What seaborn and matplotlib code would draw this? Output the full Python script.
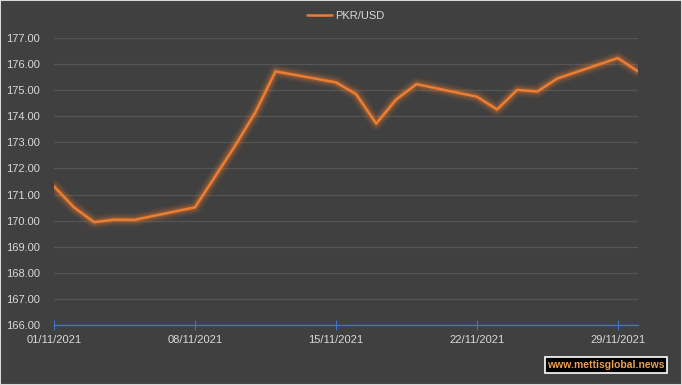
import pandas as pd
import numpy as np
import matplotlib
matplotlib.use("Agg")
import matplotlib.pyplot as plt
import matplotlib.dates as mdates
import seaborn as sns

# PKR/USD daily rate, November 2021 (business days)
dates = ["2021-11-01", "2021-11-02", "2021-11-03", "2021-11-04", "2021-11-05",
         "2021-11-08", "2021-11-09", "2021-11-10", "2021-11-11", "2021-11-12",
         "2021-11-15", "2021-11-16", "2021-11-17", "2021-11-18", "2021-11-19",
         "2021-11-22", "2021-11-23", "2021-11-24", "2021-11-25", "2021-11-26",
         "2021-11-29", "2021-11-30"]
rates = [171.31, 170.50, 169.94, 170.04, 170.03,
         170.51, 171.69, 172.88, 174.15, 175.72,
         175.30, 174.85, 173.72, 174.65, 175.23,
         174.75, 174.26, 175.01, 174.95, 175.45,
         176.23, 175.72]
tick_dates = ["2021-11-01", "2021-11-08", "2021-11-15", "2021-11-22", "2021-11-29"]
y_ticks = list(range(166, 178))

df = pd.DataFrame({"date": pd.to_datetime(dates), "rate": rates})

bg = "#404040"
orange = "#ED7D31"
txt = "#D9D9D9"

sns.set_theme(style="dark")
plt.rcParams["font.family"] = ["Liberation Sans", "DejaVu Sans"]

fig = plt.figure(figsize=(6.82, 3.85), dpi=100, facecolor=bg)
ax = fig.add_axes([54 / 682, 1 - 325 / 385, (638 - 54) / 682, (325 - 38) / 385])
ax.set_facecolor(bg)

# glow under the line
for lw, a in [(10, 0.06), (8, 0.08), (6, 0.12), (4, 0.2)]:
    ax.plot(df["date"], df["rate"], color=orange, lw=lw, alpha=a,
            solid_joinstyle="round", solid_capstyle="round", zorder=2)
sns.lineplot(data=df, x="date", y="rate", ax=ax, color=orange, lw=1.8,
             label="PKR/USD", zorder=3)

ax.set_ylim(166, 177)
ax.set_xlim(df["date"].min(), df["date"].max())
ax.set_yticks(y_ticks)
ax.set_yticklabels([f"{v:.2f}" for v in y_ticks])
ax.set_xticks(pd.to_datetime(tick_dates))
ax.xaxis.set_major_formatter(mdates.DateFormatter("%d/%m/%Y"))
ax.set_xlabel("")
ax.set_ylabel("")

ax.grid(axis="y", color="#555555", lw=0.9)
ax.grid(axis="x", visible=False)
for s in ["top", "right", "left"]:
    ax.spines[s].set_visible(False)
ax.spines["bottom"].set_color("#4472C4")
ax.spines["bottom"].set_linewidth(1)
ax.spines["bottom"].set_zorder(4)

ax.tick_params(axis="y", left=False, length=0, pad=10, labelsize=8, labelcolor=txt)
ax.tick_params(axis="x", bottom=True, direction="inout", length=7, width=0.8,
               color="#4472C4", pad=4, labelsize=8, labelcolor=txt)

leg = ax.legend(loc="upper center", bbox_to_anchor=(0.5, 1.13), frameon=False,
                fontsize=8, handlelength=2.2, handletextpad=0.3)
for t in leg.get_texts():
    t.set_color(txt)

fig.text(606 / 682, 1 - 365 / 385, "www.mettisglobal.news", ha="center", va="center",
         fontsize=7.5, fontweight="bold", color="#F0A050",
         bbox=dict(boxstyle="square,pad=0.25", facecolor="black", edgecolor="white", lw=1.2))

fig.patches.append(plt.Rectangle((0, 0), 1, 1, transform=fig.transFigure, fill=False,
                                 edgecolor="#D9D9D9", lw=1.5))

fig.savefig("out.png", dpi=100, facecolor=bg)
